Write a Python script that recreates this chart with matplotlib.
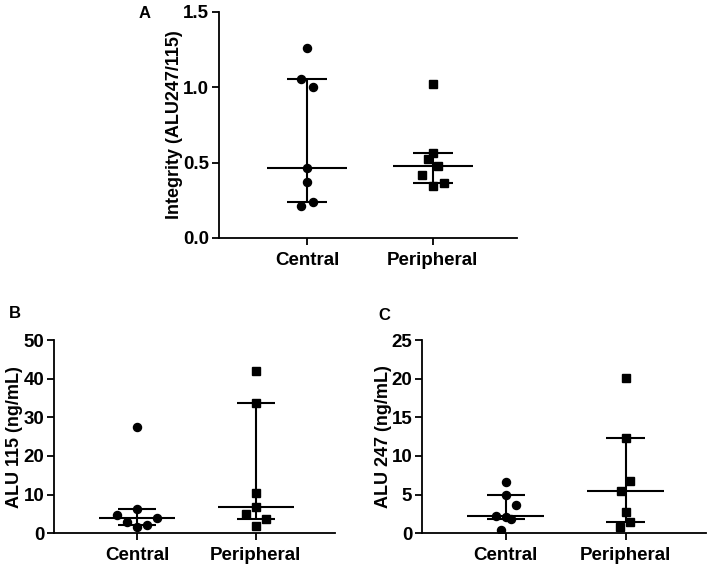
import numpy as np
import matplotlib.pyplot as plt

plt.rcParams['font.family'] = ['Liberation Sans', 'DejaVu Sans']
plt.rcParams['font.weight'] = 'bold'

groups = ["Central", "Peripheral"]

# panel A: integrity (ALU247/115)
a_central = [1.26, 1.053, 1.005, 0.467, 0.372, 0.213, 0.24]
a_periph = [1.022, 0.564, 0.527, 0.478, 0.416, 0.348, 0.366]
a_stats = [(0.467, 0.242, 1.055), (0.478, 0.363, 0.562)]  # median, q1, q3

# panel B: ALU 115 (ng/mL)
b_central = [27.4, 6.2, 4.7, 2.9, 1.6, 2.1, 4.0]
b_periph = [42.0, 33.8, 10.4, 6.7, 4.9, 3.8, 1.9]
b_stats = [(4.0, 2.1, 6.2), (6.7, 3.8, 33.8)]

# panel C: ALU 247 (ng/mL)
c_central = [6.6, 4.9, 3.6, 2.2, 2.1, 1.8, 0.4]
c_periph = [20.1, 12.3, 6.8, 5.5, 2.75, 1.4, 0.8]
c_stats = [(2.2, 1.8, 4.9), (5.5, 1.4, 12.3)]

# horizontal scatter offsets (jitter), in x data units
a_jit = [[0, -0.045, 0.045, 0, 0, -0.045, 0.045], [0, 0, -0.04, 0.045, -0.085, 0, 0.09]]
b_jit = [[0, 0, -0.17, -0.085, 0, 0.085, 0.17], [0, 0, 0, 0, -0.085, 0.085, 0]]
c_jit = [[0, 0, 0.085, -0.085, 0, 0.045, -0.04], [0, 0, 0.04, -0.04, 0, 0.04, -0.045]]

fig = plt.figure(figsize=(7.08, 5.65), dpi=100)
axA = fig.add_axes([0.3093, 0.5788, 0.4209, 0.40])
axB = fig.add_axes([0.0763, 0.0561, 0.3969, 0.3421])
axC = fig.add_axes([0.5960, 0.0561, 0.4010, 0.3421])


def panel(ax, central, periph, stats, jit, ylim, yticks, ylabel, lab_x):
    for i, (vals, mk) in enumerate([(central, 'o'), (periph, 's')]):
        x = i + np.array(jit[i])
        ax.plot(x, vals, mk, color='black', ms=5.8 if mk == 'o' else 5.6, ls='none', zorder=3)
        med, q1, q3 = stats[i]
        ax.hlines(med, i - 0.32, i + 0.32, color='black', lw=1.5)
        ax.hlines([q1, q3], i - 0.16, i + 0.16, color='black', lw=1.5)
        ax.vlines(i, q1, q3, color='black', lw=1.5)
    ax.set_xlim(-0.7, 1.67)
    ax.set_ylim(ylim)
    ax.set_yticks(yticks)
    ax.set_xticks([0, 1])
    ax.set_xticklabels(groups, fontsize=13.5, fontweight='bold')
    ax.set_ylabel(ylabel, fontsize=13, fontweight='bold')
    ax.yaxis.set_label_coords(lab_x, 0.5)
    ax.tick_params(axis='y', labelsize=13.5, width=1.3, length=5, pad=2)
    ax.tick_params(axis='x', width=1.3, length=5, pad=5)
    for s in ['top', 'right']:
        ax.spines[s].set_visible(False)
    for s in ['left', 'bottom']:
        ax.spines[s].set_linewidth(1.3)


panel(axA, a_central, a_periph, a_stats, a_jit, (0, 1.5), [0.0, 0.5, 1.0, 1.5],
      "Integrity (ALU247/115)", -36 / 298)
axA.set_yticklabels(["0.0", "0.5", "1.0", "1.5"])
panel(axB, b_central, b_periph, b_stats, b_jit, (0, 50), [0, 10, 20, 30, 40, 50],
      "ALU 115 (ng/mL)", -31 / 281)
panel(axC, c_central, c_periph, c_stats, c_jit, (0, 25), [0, 5, 10, 15, 20, 25],
      "ALU 247 (ng/mL)", -30 / 284)

fig.text(145 / 708, 1 - 13 / 565, "A", fontsize=12, fontweight='bold', ha='center', va='center')
fig.text(15 / 708, 1 - 314 / 565, "B", fontsize=12, fontweight='bold', ha='center', va='center')
fig.text(384 / 708, 1 - 315 / 565, "C", fontsize=12, fontweight='bold', ha='center', va='center')

fig.savefig("out.png", dpi=100)
